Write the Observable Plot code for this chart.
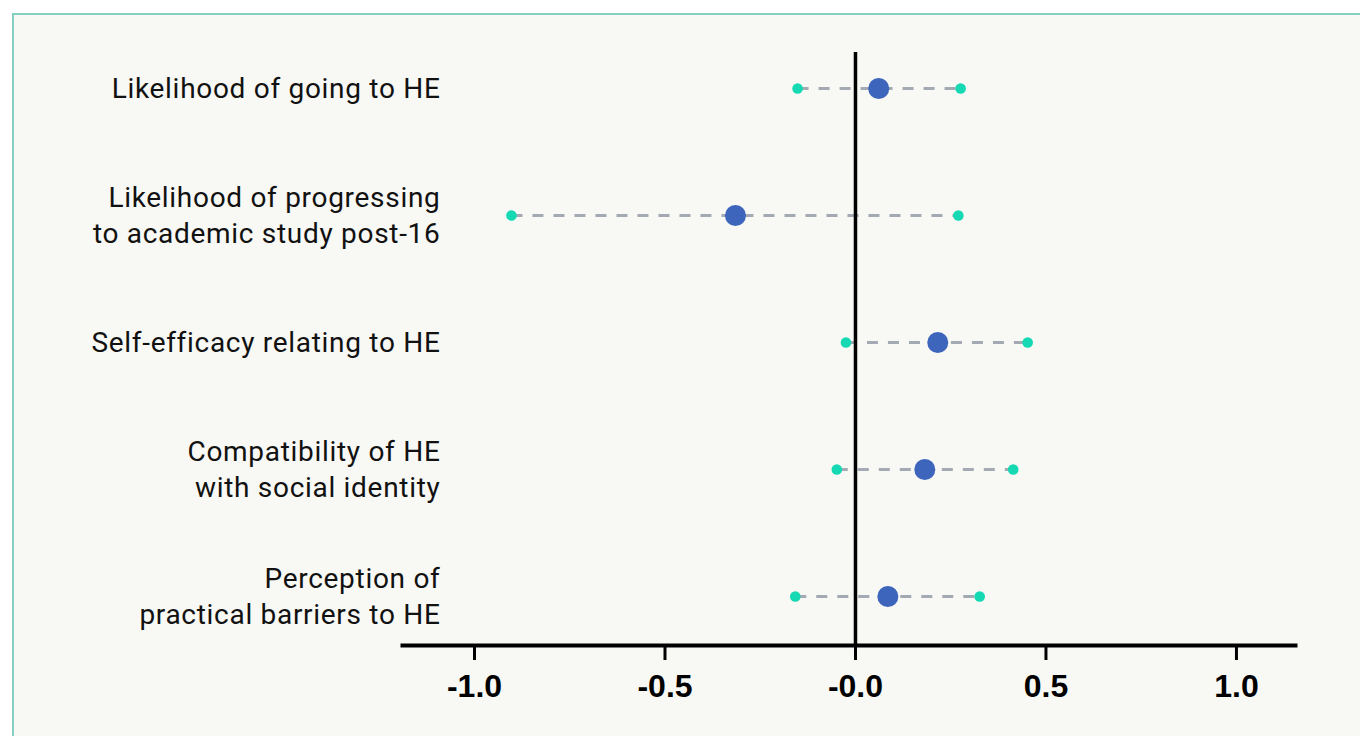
<!DOCTYPE html>
<html>
<head>
<meta charset="utf-8">
<script src="https://cdn.jsdelivr.net/npm/d3@7"></script>
<script src="https://cdn.jsdelivr.net/npm/@observablehq/plot@0.6"></script>
<style>
  html, body { margin: 0; padding: 0; background: #ffffff; width: 1360px; height: 736px; overflow: hidden; }
  #panel { position: absolute; left: 12px; top: 13px; width: 1360px; height: 740px; background: #f8f8f4; border: 2px solid #86cfbf; box-sizing: border-box; }
  #chart { position: absolute; left: 0; top: 0; }
  #chart svg { background: transparent; }
  .rowlab text { letter-spacing: 0.7px; }
</style>
</head>
<body>
<div id="panel"></div>
<div id="chart"></div>
<script>
const categories = [
  "Likelihood of going to HE",
  "Likelihood of progressing\nto academic study post-16",
  "Self-efficacy relating to HE",
  "Compatibility of HE\nwith social identity",
  "Perception of\npractical barriers to HE"
];
const estimates = [0.061, -0.315, 0.216, 0.182, 0.085];
const lower = [-0.152, -0.903, -0.025, -0.049, -0.158];
const upper = [0.276, 0.270, 0.452, 0.414, 0.326];
const xTicks = [-1.0, -0.5, 0.0, 0.5, 1.0];

const rows = categories.map((c, i) => ({cat: c, est: estimates[i], lo: lower[i], hi: upper[i]}));

const plot = Plot.plot({
  width: 1360,
  height: 736,
  marginLeft: 402,
  marginRight: 65,
  marginTop: 52,
  marginBottom: 91,
  style: {background: "transparent", fontFamily: "Roboto, sans-serif"},
  x: {domain: [-1.189, 1.155], ticks: xTicks},
  y: {type: "point", domain: categories, range: [88, 596], padding: 0, axis: null},
  marks: [
    Plot.link(rows, {x1: "lo", x2: "hi", y1: "cat", y2: "cat", stroke: "#a3aab4", strokeWidth: 3, strokeDasharray: "11,10"}),
    Plot.ruleX([0], {stroke: "#000", strokeWidth: 3.5}),
    Plot.frame({anchor: "bottom", stroke: "#000", strokeWidth: 4}),
    Plot.dot(rows, {x: "lo", y: "cat", r: 5.3, fill: "#14d9b3"}),
    Plot.dot(rows, {x: "hi", y: "cat", r: 5.3, fill: "#14d9b3"}),
    Plot.dot(rows, {x: "est", y: "cat", r: 10.5, fill: "#3c65bb"}),
    Plot.axisX({ticks: xTicks, tickSize: 15, tickPadding: 14, strokeWidth: 3, stroke: "#000",
      tickFormat: d => d === 0 ? "-0.0" : d.toFixed(1),
      fontSize: 32, fontWeight: "bold", fontFamily: "'Liberation Sans Narrow', 'Arial Narrow', sans-serif", fill: "#000", label: null}),
    Plot.text(rows, {text: "cat", y: "cat", frameAnchor: "left", dx: 38, dy: -2, textAnchor: "end", fontSize: 28, lineHeight: 1.28, fill: "#111", fontFamily: "Roboto, sans-serif", fontWeight: 400, className: "rowlab"})
  ]
});
document.getElementById("chart").appendChild(plot);
</script>
</body>
</html>
